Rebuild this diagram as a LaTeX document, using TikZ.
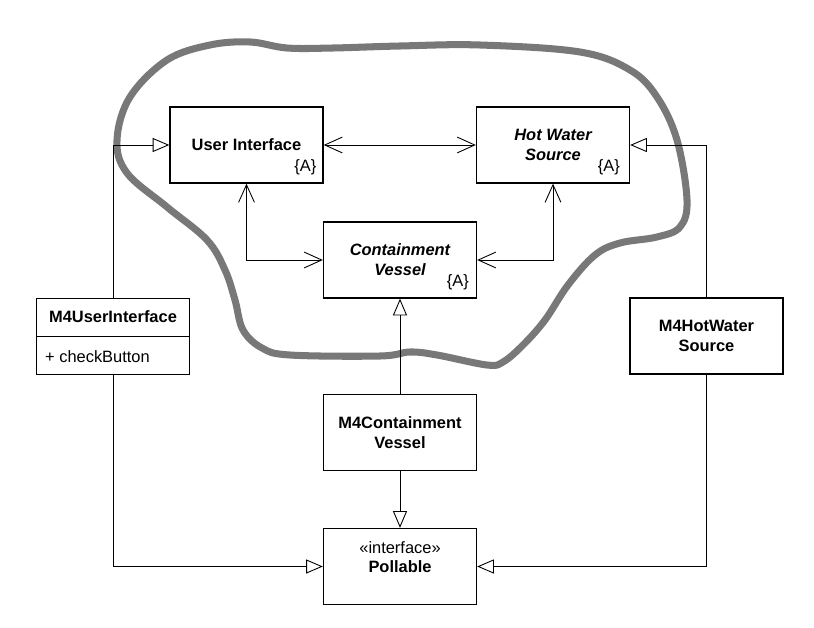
\documentclass[tikz,border=0pt]{standalone}
\usepackage{fontspec}
\setmainfont{Liberation Sans}
\usepackage{tikz}
\usetikzlibrary{calc,arrows.meta}
\tikzset{
  clase/.style     = {draw, line width=0.8pt, minimum width=3.06cm, minimum height=1.52cm, align=center, inner sep=0pt},
  abstracto/.style = {inner sep=0pt, anchor=base east},
  asoc/.style      = {<->, line width=0.5pt},
  herencia/.style  = {-{Triangle[open, length=9.5pt, width=8pt]}, line width=0.5pt},
  mancha/.style    = {line width=4pt, black!53, line join=round}
}

\begin{document}
\begin{tikzpicture}[x=0.02cm, y=-0.02cm, >={Straight Barb[length=10pt, width=9pt]},
  font=\fontsize{9.35}{11.3}\selectfont]
  \useasboundingbox (0,0) rectangle (814,628);
  % grupo de clases abstractas
  \draw[mancha] plot[smooth cycle, tension=0.6] coordinates {
    (117,140) (130,97) (167,60) (210,45) (250,42) (287,48) (333,48) (400,46)
    (480,45) (580,52) (630,70) (657,97) (677,140) (687,200) (680,227) (657,237)
    (620,243) (595,255) (568,285) (545,320) (523,345) (503,362) (487,365)
    (437,355) (410,352) (380,356) (290,355) (262,348) (243,330) (235,300)
    (225,270) (207,240) (167,207) (127,173)};
  \node[clase, font=\fontsize{9.35}{11.3}\selectfont\bfseries] (ui) at (246.5,145) {User Interface};
  \node[clase, font=\fontsize{9.35}{11.3}\selectfont\bfseries\itshape] (hws) at (553,145) {Hot Water\\Source};
  \node[clase, font=\fontsize{9.35}{11.3}\selectfont\bfseries\itshape] (cv) at (400,260) {Containment\\Vessel};
  \node[abstracto] (uiA) at ($(ui.south east)+(-7,-12)$) {\{A\}};
  \node[abstracto] (hwsA) at ($(hws.south east)+(-10,-12)$) {\{A\}};
  \node[abstracto] (cvA) at ($(cv.south east)+(-8,-12)$) {\{A\}};
  \node[clase] (m4ui) at (113,336.5) {};
  \draw[line width=0.8pt] (m4ui.west) -- (m4ui.east);
  \node[font=\fontsize{9.35}{11.3}\selectfont\bfseries] (m4uinom) at ($(m4ui.north)+(0,19)$) {M4UserInterface};
  \node[anchor=west, inner sep=0pt] (m4uiatr) at ($(m4ui.west)+(9,20)$) {+ checkButton};
  \node[clase, font=\fontsize{9.35}{11.3}\selectfont\bfseries] (m4hw) at (706.5,336) {M4HotWater\\Source};
  \node[clase, font=\fontsize{9.35}{11.3}\selectfont\bfseries] (m4cv) at (400,432.5) {M4Containment\\Vessel};
  \node[clase] (poll) at (400,566.5) {};
  \node[anchor=north, align=center, inner sep=0pt] (pollnom) at ($(poll.north)+(0,13)$) {«interface»\\\textbf{Pollable}};
  \draw[asoc] (ui) -- (hws);
  \draw[asoc] (ui) |- (cv);
  \draw[asoc] (hws) |- (cv);
  \draw[herencia] (m4ui) |- (ui);
  \draw[herencia] (m4ui) |- (poll);
  \draw[herencia] (m4hw) |- (hws);
  \draw[herencia] (m4hw) |- (poll);
  \draw[herencia] (m4cv) -- (cv);
  \draw[herencia] (m4cv) -- (poll);
\end{tikzpicture}
\end{document}
